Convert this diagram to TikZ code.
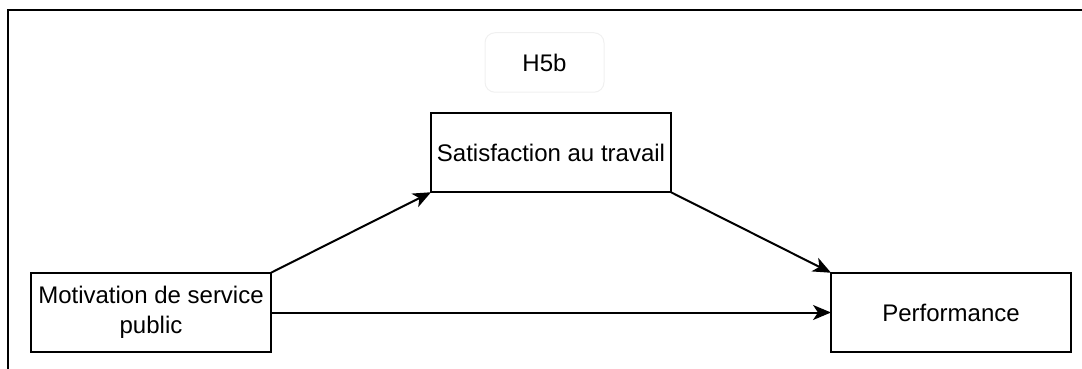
\documentclass[tikz,border=0pt]{standalone}
\usepackage{fontspec}
\setmainfont{Liberation Sans}
\usetikzlibrary{arrows.meta}
\begin{document}
\begin{tikzpicture}[x=0.5pt,y=-0.5pt,
 box/.style={draw=black, line width=1pt, minimum width=120pt, minimum height=39.75pt, inner sep=0pt, outer sep=0pt, align=center, font=\fontsize{12}{14.8}\selectfont},
 label/.style={draw=gray!12, line width=0.5pt, rounded corners=5pt, minimum width=59.5pt, minimum height=29.75pt, inner sep=0pt, outer sep=0pt, font=\fontsize{12}{14.8}\selectfont},
 frame/.style={line width=1pt},
 conn/.style={line width=1pt, -{Stealth[length=9pt,width=7.5pt,inset=2.5pt]}}
]
\useasboundingbox (0,0) rectangle (1082,369);
\draw[frame] (8,369) -- (8,10.5) -- (1082,10.5);
\node[box] (msp) at (151,312.5) {Motivation de service\\public};
\node[box] (perf) at (951,312.5) {Performance};
\node[box] (sat) at (551,152.5) {Satisfaction au travail};
\node[label] (h5b) at (544.5,62.5) {H5b};
\draw[conn] (msp.north east) -- (sat.south west);
\draw[conn] (sat.south east) -- (perf.north west);
\draw[conn] (msp.east) -- (perf.west);
\end{tikzpicture}
\end{document}
